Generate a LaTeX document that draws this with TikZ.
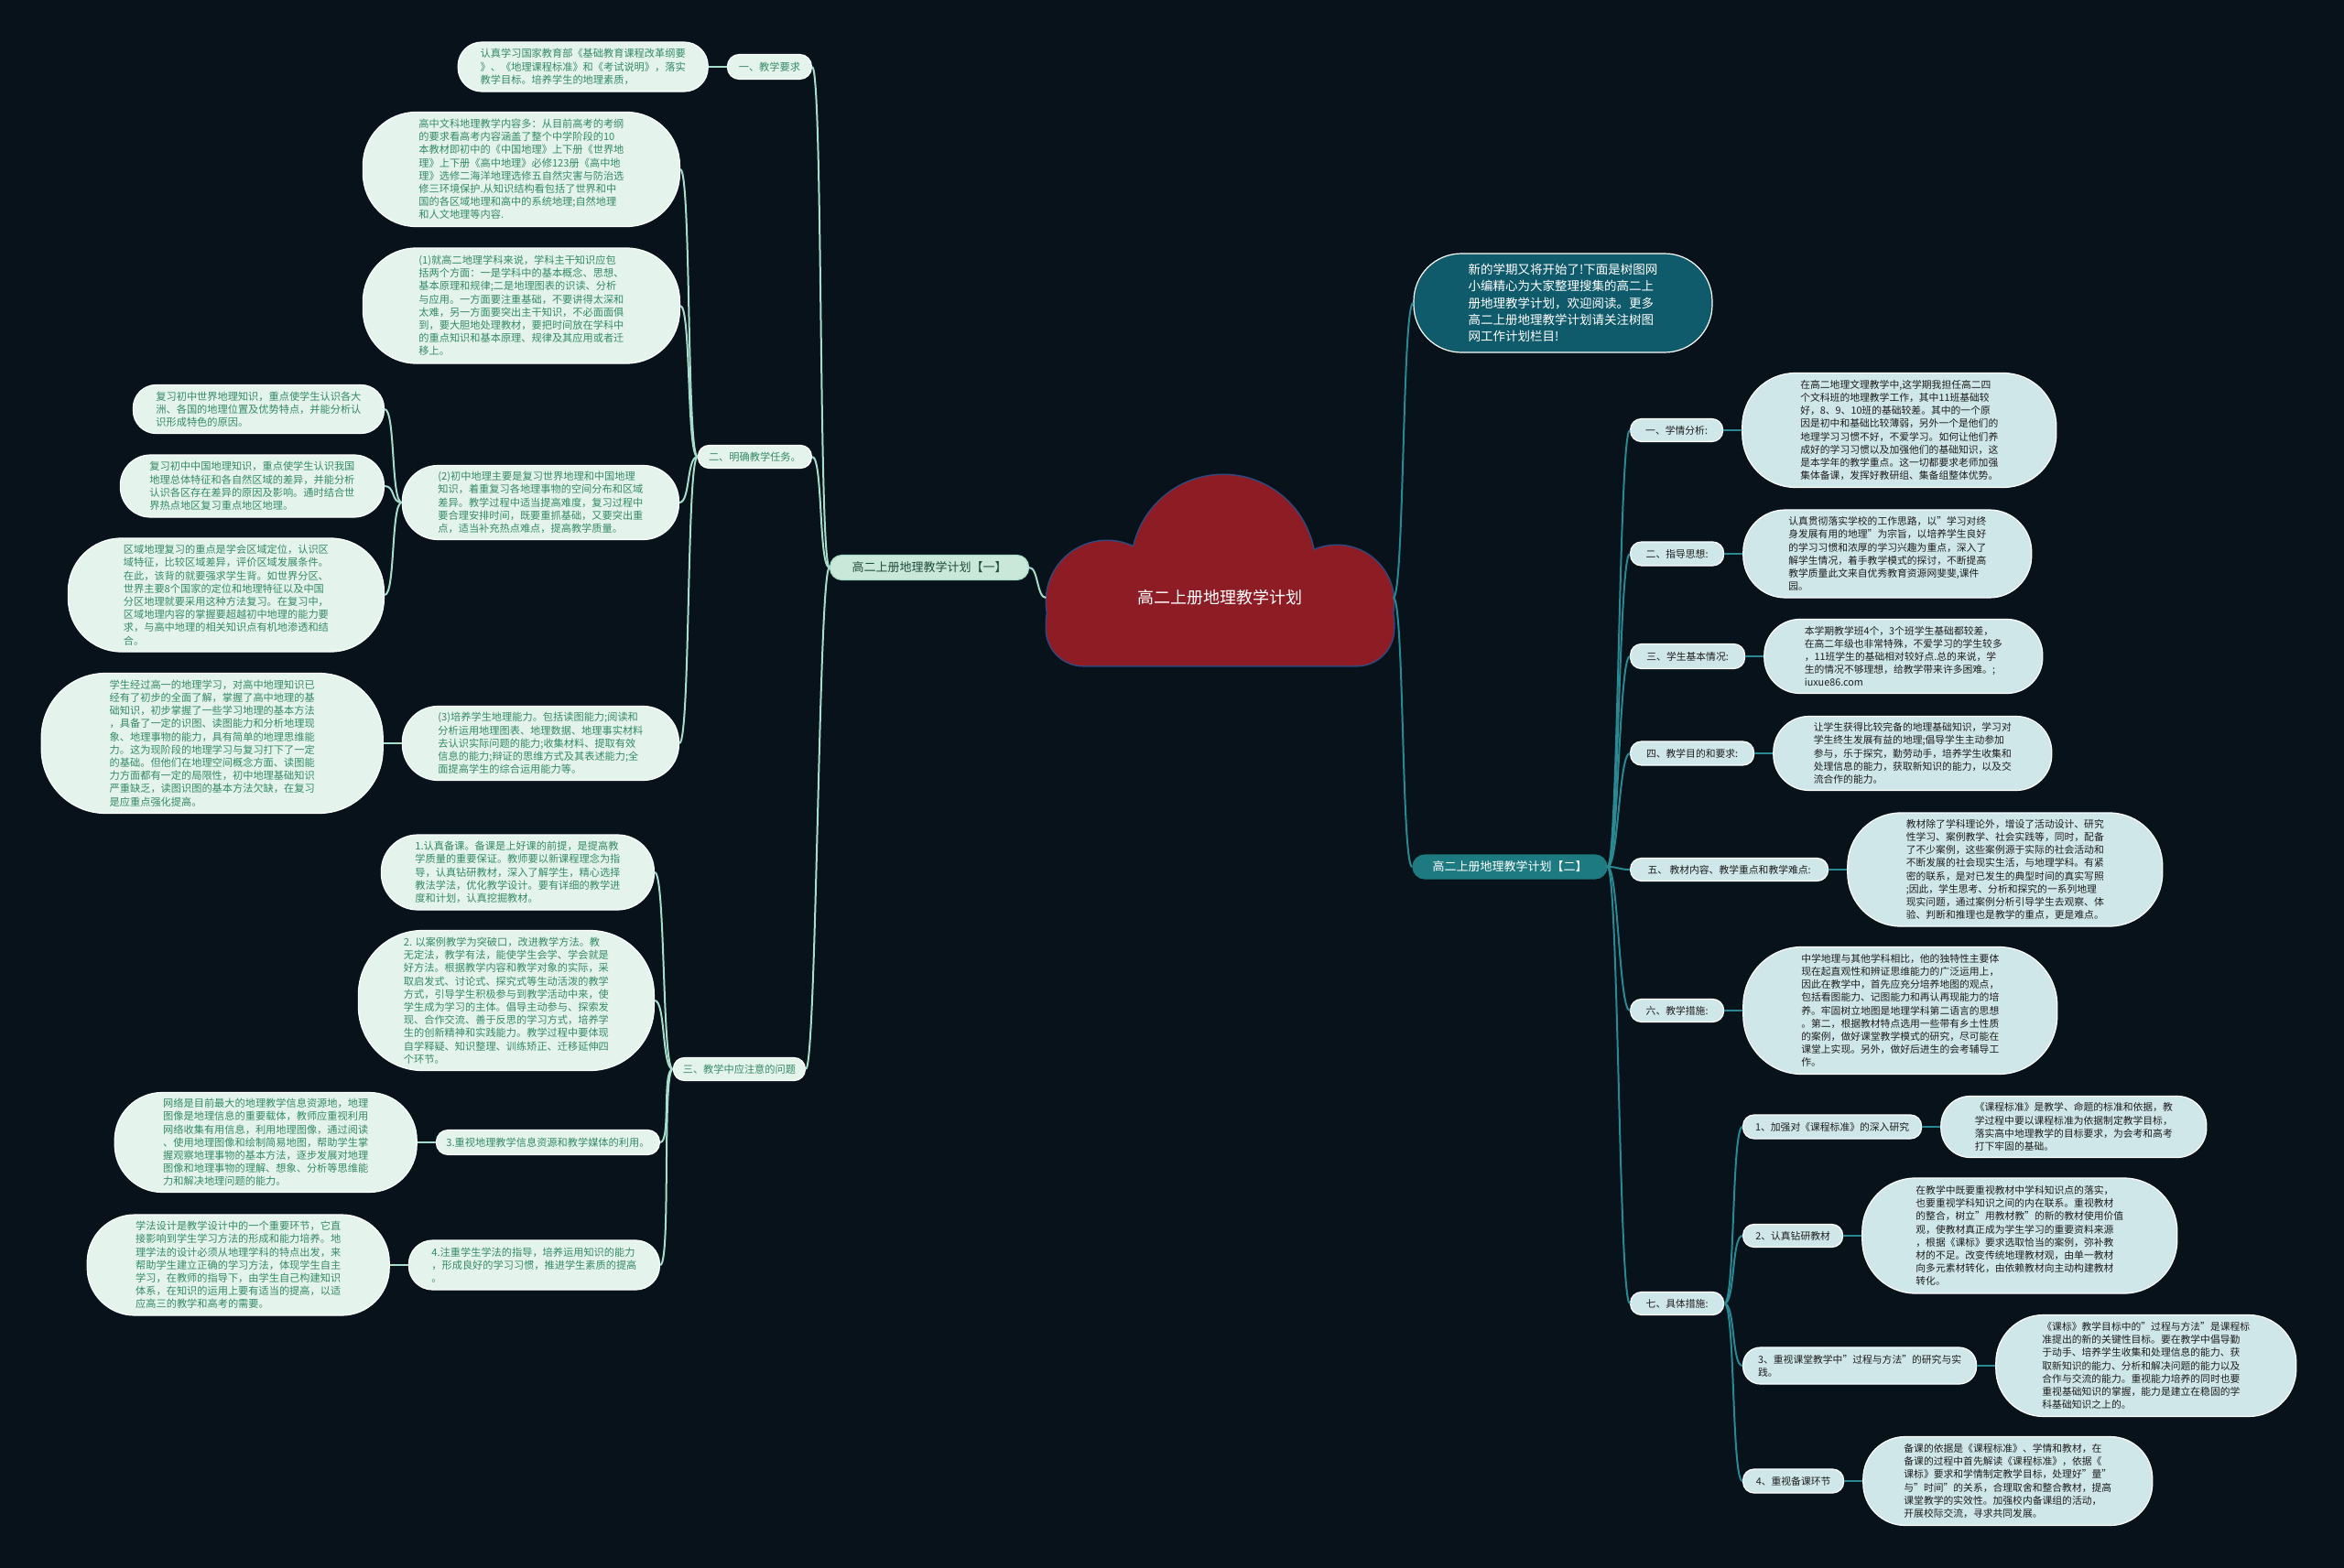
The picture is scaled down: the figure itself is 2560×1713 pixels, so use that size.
\documentclass[tikz,border=0pt]{standalone}
\usepackage{fontspec}
\setmainfont{Noto Sans CJK SC}
\usetikzlibrary{positioning}

\definecolor{bgdark}{HTML}{07121A}
\definecolor{leafL}{HTML}{E4F3EC}
\definecolor{textL}{HTML}{348A66}
\definecolor{lineL}{HTML}{A6DDCB}
\definecolor{leafR}{HTML}{CFE7E9}
\definecolor{textR}{HTML}{1E1E1E}
\definecolor{lineR}{HTML}{2A8892}
\definecolor{introbg}{HTML}{0F5A6B}
\definecolor{branchR}{HTML}{1C7A80}
\definecolor{branchL}{HTML}{C9E8DA}
\definecolor{branchLtext}{HTML}{1F4D3C}
\definecolor{cloudred}{HTML}{8E1C25}
\definecolor{cloudrim}{HTML}{2E4A80}

\tikzset{
  lbox/.style={rectangle, rounded corners=#1pt, fill=leafL, draw=white, line width=1.2pt,
    text=textL, align=left, inner sep=0pt, font=\fontsize{11.2}{14.2}\selectfont},
  lbox/.default=12,
  rbox/.style={rectangle, rounded corners=#1pt, fill=leafR, draw=white, line width=1.2pt,
    text=textR, align=left, inner sep=0pt, font=\fontsize{10.8}{14.2}\selectfont},
  rbox/.default=12,
  sz/.style 2 args={minimum width=#1pt, minimum height=#2pt},
  linkL/.style={draw=lineL, line width=2pt},
  linkR/.style={draw=lineR, line width=2pt},
}

\begin{document}
\begin{tikzpicture}[x=1pt, y=-1pt]
\useasboundingbox (0,0) rectangle (2560,1713);
\fill[bgdark] (0,0) rectangle (2560,1713);

\foreach \px/\py/\pr in {1209/657/66, 1336/619/100, 1460/658/62}
  \draw[cloudrim, line width=3pt] (\px,\py) circle (\pr*1pt);
\draw[cloudrim, line width=3pt, rounded corners=40pt] (1143,640) rectangle (1522,727);
\foreach \px/\py/\pr in {1209/657/66, 1336/619/100, 1460/658/62}
  \fill[cloudred] (\px,\py) circle (\pr*1pt);
\fill[cloudred, rounded corners=40pt] (1143,640) rectangle (1522,727);
\node[text=white, font=\fontsize{18}{22}\selectfont, minimum width=379pt] (root) at (1332,653) {高二上册地理教学计划};

\node[lbox=13, sz={217}{27}, fill=branchL, draw=lineL, text=branchLtext, font=\fontsize{13}{16}\selectfont] (brL) at (1015,620) {高二上册地理教学计划【一】};

\node[lbox=13, sz={92}{27}, anchor=east] (lone) at (887,73) {一、教学要求};
\node[lbox=12, sz={124}{25}, anchor=east] (ltwo) at (887,499) {二、明确教学任务。};
\node[lbox=12, sz={144}{25}, anchor=east] (lthree) at (880,1168) {三、教学中应注意的问题};

\node[lbox=26, sz={273}{54}, left=20pt of lone] (la) {认真学习国家教育部《基础教育课程改革纲要\\》、《地理课程标准》和《考试说明》，落实\\教学目标。培养学生的地理素质，};

\node[lbox=58, sz={346}{125}, anchor=east] (lb1) at (743,185) {高中文科地理教学内容多：从目前高考的考纲\\的要求看高考内容涵盖了整个中学阶段的10\\本教材即初中的《中国地理》上下册《世界地\\理》上下册《高中地理》必修123册《高中地\\理》选修二海洋地理选修五自然灾害与防治选\\修三环境保护.从知识结构看包括了世界和中\\国的各区域地理和高中的系统地理;自然地理\\和人文地理等内容.};
\node[lbox=58, sz={346}{126}, anchor=east] (lb2) at (743,334) {(1)就高二地理学科来说，学科主干知识应包\\括两个方面：一是学科中的基本概念、思想、\\基本原理和规律;二是地理图表的识读、分析\\与应用。一方面要注重基础，不要讲得太深和\\太难，另一方面要突出主干知识，不必面面俱\\到，要大胆地处理教材，要把时间放在学科中\\的重点知识和基本原理、规律及其应用或者迁\\移上。};
\node[lbox=39, sz={302}{81}, anchor=east] (lb3) at (742,549) {(2)初中地理主要是复习世界地理和中国地理\\知识，着重复习各地理事物的空间分布和区域\\差异。教学过程中适当提高难度，复习过程中\\要合理安排时间，既要重抓基础，又要突出重\\点，适当补充热点难点，提高教学质量。};
\node[lbox=39, sz={302}{81}, anchor=east] (lb4) at (742,812) {(3)培养学生地理能力。包括读图能力;阅读和\\分析运用地理图表、地理数据、地理事实材料\\去认识实际问题的能力;收集材料、提取有效\\信息的能力;辩证的思维方式及其表述能力;全\\面提高学生的综合运用能力等。};

\node[lbox=25, sz={274}{53}, anchor=east] (lw1) at (420,447) {复习初中世界地理知识，重点使学生认识各大\\洲、各国的地理位置及优势特点，并能分析认\\识形成特色的原因。};
\node[lbox=33, sz={288}{68}, anchor=east] (lw2) at (420,531) {复习初中中国地理知识，重点使学生认识我国\\地理总体特征和各自然区域的差异，并能分析\\认识各区存在差异的原因及影响。通时结合世\\界热点地区复习重点地区地理。};
\node[lbox=58, sz={345}{124}, anchor=east] (lw3) at (420,650) {区域地理复习的重点是学会区域定位，认识区\\域特征，比较区域差异，评价区域发展条件。\\在此，该背的就要强求学生背。如世界分区、\\世界主要8个国家的定位和地理特征以及中国\\分区地理就要采用这种方法复习。在复习中，\\区域地理内容的掌握要超越初中地理的能力要\\求，与高中地理的相关知识点有机地渗透和结\\合。};
\node[lbox=70, sz={373}{153}, left=20pt of lb4] (lw4) {学生经过高一的地理学习，对高中地理知识已\\经有了初步的全面了解，掌握了高中地理的基\\础知识，初步掌握了一些学习地理的基本方法\\，具备了一定的识图、读图能力和分析地理现\\象、地理事物的能力，具有简单的地理思维能\\力。这为现阶段的地理学习与复习打下了一定\\的基础。但他们在地理空间概念方面、读图能\\力方面都有一定的局限性，初中地理基础知识\\严重缺乏，读图识图的基本方法欠缺，在复习\\是应重点强化提高。};

\node[lbox=40, sz={298}{82}, anchor=east] (lc1) at (715,953) {1.认真备课。备课是上好课的前提，是提高教\\学质量的重要保证。教师要以新课程理念为指\\导，认真钻研教材，深入了解学生，精心选择\\教法学法，优化教学设计。要有详细的教学进\\度和计划，认真挖掘教材。};
\node[lbox=70, sz={323}{153}, anchor=east] (lc2) at (715,1093) {2. 以案例教学为突破口，改进教学方法。教\\无定法，教学有法，能使学生会学、学会就是\\好方法。根据教学内容和教学对象的实际，采\\取启发式、讨论式、探究式等生动活泼的教学\\方式，引导学生积极参与到教学活动中来，使\\学生成为学习的主体。倡导主动参与、探索发\\现、合作交流、善于反思的学习方式，培养学\\生的创新精神和实践能力。教学过程中要体现\\自学释疑、知识整理、训练矫正、迁移延伸四\\个环节。};
\node[lbox=13, sz={244}{27}, anchor=east] (lc3) at (721,1248) {3.重视地理教学信息资源和教学媒体的利用。};
\node[lbox=26, sz={274}{54}, anchor=east] (lc4) at (721,1382) {4.注重学生学法的指导，培养运用知识的能力\\，形成良好的学习习惯，推进学生素质的提高\\。};
\node[lbox=52, sz={330}{109}, left=20pt of lc3] (ld3) {网络是目前最大的地理教学信息资源地，地理\\图像是地理信息的重要载体，教师应重视利用\\网络收集有用信息，利用地理图像，通过阅读\\、使用地理图像和绘制简易地图，帮助学生掌\\握观察地理事物的基本方法，逐步发展对地理\\图像和地理事物的理解、想象、分析等思维能\\力和解决地理问题的能力。};
\node[lbox=52, sz={330}{110}, left=20pt of lc4] (ld4) {学法设计是教学设计中的一个重要环节，它直\\接影响到学生学习方法的形成和能力培养。地\\理学法的设计必须从地理学科的特点出发，来\\帮助学生建立正确的学习方法，体现学生自主\\学习，在教师的指导下，由学生自己构建知识\\体系，在知识的运用上要有适当的提高，以适\\应高三的教学和高考的需要。};

\node[rbox=52, sz={326}{108}, fill=introbg, draw=white, text=white, font=\fontsize{13.5}{18.3}\selectfont] (intro) at (1707,331) {新的学期又将开始了!下面是树图网\\小编精心为大家整理搜集的高二上\\册地理教学计划，欢迎阅读。更多\\高二上册地理教学计划请关注树图\\网工作计划栏目!};
\node[rbox=13, sz={212}{26}, fill=branchR, draw=branchR, text=white, font=\fontsize{13}{16}\selectfont] (brR) at (1649,947) {高二上册地理教学计划【二】};

\node[rbox, sz={101}{25}, anchor=west] (rone) at (1780,470) {一、学情分析:};
\node[rbox, sz={102}{26}, anchor=west] (rtwo) at (1780,605) {二、指导思想:};
\node[rbox, sz={125}{27}, anchor=west] (rthree) at (1780,717) {三、学生基本情况:};
\node[rbox, sz={135}{26}, anchor=west] (rfour) at (1780,823) {四、教学目的和要求:};
\node[rbox, sz={216}{25}, anchor=west] (rfive) at (1780,950) {五、 教材内容、教学重点和教学难点:};
\node[rbox, sz={102}{25}, anchor=west] (rsix) at (1780,1104) {六、教学措施:};
\node[rbox, sz={102}{25}, anchor=west] (rseven) at (1780,1424) {七、具体措施:};

\node[rbox=58, sz={343}{125}, right=20pt of rone] (ra1) {在高二地理文理教学中,这学期我担任高二四\\个文科班的地理教学工作，其中11班基础较\\好，8、9、10班的基础较差。其中的一个原\\因是初中和基础比较薄弱，另外一个是他们的\\地理学习习惯不好，不爱学习。如何让他们养\\成好的学习习惯以及加强他们的基础知识，这\\是本学年的教学重点。这一切都要求老师加强\\集体备课，发挥好教研组、集备组整体优势。};
\node[rbox=46, sz={315}{96}, right=20pt of rtwo] (ra2) {认真贯彻落实学校的工作思路，以"学习对终\\身发展有用的地理"为宗旨，以培养学生良好\\的学习习惯和浓厚的学习兴趣为重点，深入了\\解学生情况，着手教学模式的探讨，不断提高\\教学质量此文来自优秀教育资源网斐斐,课件\\园。};
\node[rbox=39, sz={304}{81}, right=20pt of rthree] (ra3) {本学期教学班4个，3个班学生基础都较差，\\在高二年级也非常特殊，不爱学习的学生较多\\，11班学生的基础相对较好点.总的来说，学\\生的情况不够理想，给教学带来许多困难。;\\iuxue86.com};
\node[rbox=39, sz={304}{81}, right=20pt of rfour] (ra4) {让学生获得比较完备的地理基础知识，学习对\\学生终生发展有益的地理;倡导学生主动参加\\参与，乐于探究，勤劳动手，培养学生收集和\\处理信息的能力，获取新知识的能力，以及交\\流合作的能力。};
\node[rbox=58, sz={344}{124}, right=20pt of rfive] (ra5) {教材除了学科理论外，增设了活动设计、研究\\性学习、案例教学、社会实践等，同时，配备\\了不少案例，这些案例源于实际的社会活动和\\不断发展的社会现实生活，与地理学科。有紧\\密的联系，是对已发生的典型时间的真实写照\\;因此，学生思考、分析和探究的一系列地理\\现实问题，通过案例分析引导学生去观察、体\\验、判断和推理也是教学的重点，更是难点。};
\node[rbox=64, sz={343}{139}, right=20pt of rsix] (ra6) {中学地理与其他学科相比，他的独特性主要体\\现在起直观性和辨证思维能力的广泛运用上，\\因此在教学中，首先应充分培养地图的观点，\\包括看图能力、记图能力和再认再现能力的培\\养。牢固树立地图是地理学科第二语言的思想\\。第二，根据教材特点选用一些带有乡土性质\\的案例，做好课堂教学模式的研究，尽可能在\\课堂上实现。另外，做好后进生的会考辅导工\\作。};

\node[rbox, sz={195}{26}, anchor=west] (rs1) at (1903,1231) {1、加强对《课程标准》的深入研究};
\node[rbox, sz={109}{25}, anchor=west] (rs2) at (1903,1350) {2、认真钻研教材};
\node[rbox=19, sz={255}{40}, anchor=west] (rs3) at (1903,1492) {3、重视课堂教学中"过程与方法"的研究与实\\践。};
\node[rbox, sz={110}{26}, anchor=west] (rs4) at (1903,1618) {4、重视备课环节};

\node[rbox=32, sz={290}{67}, right=20pt of rs1] (rb1) {《课程标准》是教学、命题的标准和依据，教\\学过程中要以课程标准为依据制定教学目标，\\落实高中地理教学的目标要求，为会考和高考\\打下牢固的基础。};
\node[rbox=58, sz={344}{126}, right=20pt of rs2] (rb2) {在教学中既要重视教材中学科知识点的落实，\\也要重视学科知识之间的内在联系。重视教材\\的整合，树立"用教材教"的新的教材使用价值\\观，使教材真正成为学生学习的重要资料来源\\，根据《课标》要求选取恰当的案例，弥补教\\材的不足。改变传统地理教材观，由单一教材\\向多元素材转化，由依赖教材向主动构建教材\\转化。};
\node[rbox=52, sz={328}{111}, right=20pt of rs3] (rb3) {《课标》教学目标中的"过程与方法"是课程标\\准提出的新的关键性目标。要在教学中倡导勤\\于动手、培养学生收集和处理信息的能力、获\\取新知识的能力、分析和解决问题的能力以及\\合作与交流的能力。重视能力培养的同时也要\\重视基础知识的掌握，能力是建立在稳固的学\\科基础知识之上的。};
\node[rbox=46, sz={316}{97}, right=20pt of rs4] (rb4) {备课的依据是《课程标准》、学情和教材，在\\备课的过程中首先解读《课程标准》，依据《\\课标》要求和学情制定教学目标，处理好"量"\\与"时间"的关系，合理取舍和整合教材，提高\\课堂教学的实效性。加强校内备课组的活动，\\开展校际交流，寻求共同发展。};

\draw[linkL] (root.west) .. controls +(-10,0) and +(10,0) .. (brL.east);
\foreach \n in {lone,ltwo,lthree}
  \draw[linkL] (brL.west) .. controls +(-12,0) and +(12,0) .. (\n.east);
\draw[linkL] (lone.west) -- (la.east);
\foreach \n in {lb1,lb2,lb3,lb4}
  \draw[linkL] (ltwo.west) .. controls +(-12,0) and +(12,0) .. (\n.east);
\foreach \n in {lw1,lw2,lw3}
  \draw[linkL] (lb3.west) .. controls +(-12,0) and +(12,0) .. (\n.east);
\draw[linkL] (lb4.west) -- (lw4.east);
\foreach \n in {lc1,lc2,lc3,lc4}
  \draw[linkL] (lthree.west) .. controls +(-12,0) and +(12,0) .. (\n.east);
\draw[linkL] (lc3.west) -- (ld3.east);
\draw[linkL] (lc4.west) -- (ld4.east);

\foreach \n in {intro,brR}
  \draw[linkR] (root.east) .. controls +(12,0) and +(-12,0) .. (\n.west);
\foreach \n in {rone,rtwo,rthree,rfour,rfive,rsix,rseven}
  \draw[linkR] (brR.east) .. controls +(12,0) and +(-12,0) .. (\n.west);
\foreach \a/\b in {rone/ra1,rtwo/ra2,rthree/ra3,rfour/ra4,rfive/ra5,rsix/ra6,rs1/rb1,rs2/rb2,rs3/rb3,rs4/rb4}
  \draw[linkR] (\a.east) -- (\b.west);
\foreach \n in {rs1,rs2,rs3,rs4}
  \draw[linkR] (rseven.east) .. controls +(12,0) and +(-12,0) .. (\n.west);
\end{tikzpicture}
\end{document}
